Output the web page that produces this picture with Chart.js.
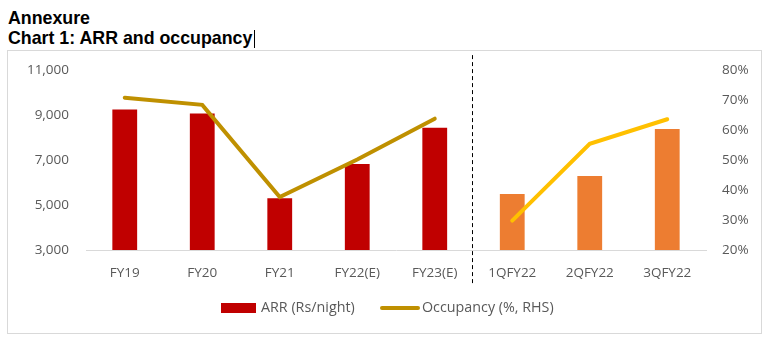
<!DOCTYPE html>
<html>
<head>
<meta charset="utf-8">
<script src="https://cdn.jsdelivr.net/npm/chart.js@4/dist/chart.umd.min.js"></script>
<style>
  body { margin: 0; background: #fff; width: 772px; height: 346px; position: relative; overflow: hidden; }
  .title { position: absolute; left: 8px; font-family: "Liberation Sans", Arial, sans-serif; font-weight: bold; font-size: 17.8px; color: #000; line-height: 20px; }
  .cursor { display: inline-block; width: 1px; height: 18px; background: #000; vertical-align: -4px; margin-left: 2px; }
  .frame { position: absolute; left: 7px; top: 50px; width: 755px; height: 284px; box-sizing: border-box; border: 1px solid #d9d9d9; }
  canvas { position: absolute; left: 0; top: 2px; }
  .legend { position: absolute; top: 297px; font-family: "Open Sans", sans-serif; font-size: 14.3px; color: #595959; line-height: 20px; }
  .swatch { position: absolute; }
</style>
</head>
<body>
<div class="title" style="top:8px">Annexure</div>
<div class="title" style="top:28px">Chart 1: ARR and occupancy<span class="cursor"></span></div>
<div class="frame">
  <canvas id="myChart" width="753" height="280"></canvas>
</div>
<div class="swatch" style="left:221px; top:303px; width:35px; height:10px; background:#C00000"></div>
<div class="legend" style="left:261px">ARR (Rs/night)</div>
<div class="swatch" style="left:380px; top:306px; width:40px; height:4px; border-radius:2px; background:#BF9000"></div>
<div class="legend" style="left:422px">Occupancy (%, RHS)</div>
<script>
const annualLabels = ["FY19", "FY20", "FY21", "FY22(E)", "FY23(E)"];
const quarterLabels = ["1QFY22", "2QFY22", "3QFY22"];
const annualArr = [9250, 9070, 5300, 6820, 8440];
const quarterArr = [5490, 6290, 8380];
const annualOcc = [70.8, 68.4, 37.7, 50.2, 63.8];
const quarterOcc = [29.8, 55.4, 63.6];
const leftTicks = [3000, 5000, 7000, 9000, 11000];
const rightTicks = [20, 30, 40, 50, 60, 70, 80];

const labels = annualLabels.concat(quarterLabels);
const barColors = annualLabels.map(() => "#C00000").concat(quarterLabels.map(() => "#ED7D31"));
const pad = (n) => new Array(n).fill(null);

const tickFont = { family: "'Open Sans', sans-serif", size: 13.5 };

// dashed divider between annual and quarterly blocks
const dividerPlugin = {
    id: "divider",
    afterDatasetsDraw(chart) {
        const x = chart.scales.x;
        const area = chart.chartArea;
        const px = (x.getPixelForValue(annualLabels.length - 1) + x.getPixelForValue(annualLabels.length)) / 2 - 2;
        const ctx = chart.ctx;
        ctx.save();
        ctx.strokeStyle = "#000";
        ctx.lineWidth = 1;
        ctx.setLineDash([4, 3]);
        ctx.beginPath();
        ctx.moveTo(Math.round(px) + 0.5, area.top - 15);
        ctx.lineTo(Math.round(px) + 0.5, area.bottom + 35);
        ctx.stroke();
        ctx.restore();
    },
};

const ctx = document.getElementById("myChart").getContext("2d");
const myChart = new Chart(ctx, {
    type: "bar",
    data: {
        labels: labels,
        datasets: [
            {
                type: "line",
                label: "Occupancy (%, RHS)",
                data: annualOcc.concat(pad(quarterLabels.length)),
                borderColor: "#BF9000",
                borderWidth: 4,
                borderCapStyle: "round",
                pointRadius: 0,
                yAxisID: "y1",
                order: 0,
            },
            {
                type: "line",
                label: "Occupancy quarterly",
                data: pad(annualLabels.length).concat(quarterOcc),
                borderColor: "#FFC000",
                borderWidth: 4,
                borderCapStyle: "round",
                pointRadius: 0,
                yAxisID: "y1",
                order: 0,
            },
            {
                label: "ARR (Rs/night)",
                data: annualArr.concat(quarterArr),
                backgroundColor: barColors,
                barPercentage: 0.32,
                categoryPercentage: 1,
                yAxisID: "y",
                order: 1,
            },
        ],
    },
    plugins: [dividerPlugin],
    options: {
        responsive: false,
        animation: false,
        layout: { padding: { top: 13, bottom: 43, left: 0, right: 0 } },
        plugins: {
            legend: { display: false },
            tooltip: { enabled: false },
        },
        scales: {
            x: {
                grid: { display: false },
                border: { display: true, color: "#d9d9d9", width: 1 },
                ticks: { color: "#595959", font: tickFont, padding: 7, maxRotation: 0, autoSkip: false },
                afterFit: (scale) => { scale.height = 40; },
            },
            y: {
                position: "left",
                min: 3000,
                max: 11000,
                grid: { display: false },
                border: { display: false },
                afterBuildTicks: (scale) => { scale.ticks = leftTicks.map((v) => ({ value: v })); },
                ticks: {
                    color: "#595959",
                    font: tickFont,
                    padding: 9,
                    callback: (value) => value.toLocaleString("en-US"),
                },
                afterFit: (scale) => { scale.width = 78; },
            },
            y1: {
                position: "right",
                min: 20,
                max: 80,
                grid: { display: false },
                border: { display: false },
                afterBuildTicks: (scale) => { scale.ticks = rightTicks.map((v) => ({ value: v })); },
                ticks: {
                    color: "#595959",
                    font: tickFont,
                    padding: 8,
                    callback: (value) => value + "%",
                },
                afterFit: (scale) => { scale.width = 55; },
            },
        },
    },
});
</script>
</body>
</html>
